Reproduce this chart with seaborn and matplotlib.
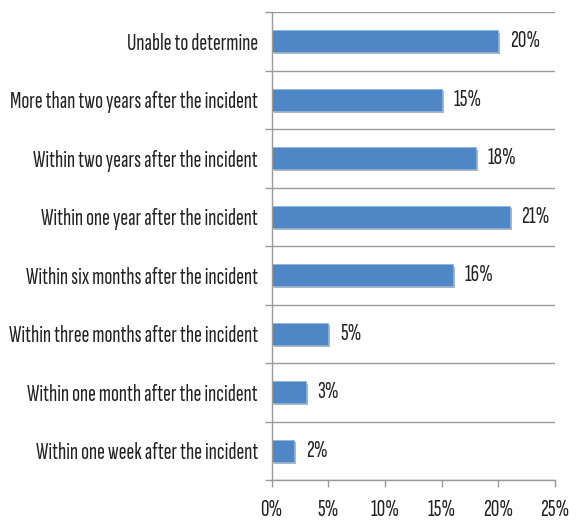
import matplotlib
matplotlib.use("Agg")
import matplotlib.pyplot as plt
import seaborn as sns
import pandas as pd
import matplotlib.patheffects as pe
from matplotlib.ticker import FixedLocator, FuncFormatter

categories = [
    "Unable to determine",
    "More than two years after the incident",
    "Within two years after the incident",
    "Within one year after the incident",
    "Within six months after the incident",
    "Within three months after the incident",
    "Within one month after the incident",
    "Within one week after the incident",
]
values = [20, 15, 18, 21, 16, 5, 3, 2]
xticks = [0, 5, 10, 15, 20, 25]

sns.set_theme(style="white")
plt.rcParams['font.family'] = ['Sofia Sans Extra Condensed', 'DejaVu Sans']

df = pd.DataFrame({"cat": categories, "val": values})

fig = plt.figure(figsize=(5.76, 5.23), dpi=100)
ax = fig.add_axes([0.4717, 0.0822, 0.9635 - 0.4717, 0.977 - 0.0822])

sns.barplot(data=df, y="cat", x="val", orient="h", color="#4F86C6",
            width=0.37, saturation=1, ax=ax, order=categories)
for p in ax.patches:
    p.set_path_effects([pe.SimplePatchShadow(offset=(1.5, -1.5), alpha=0.35),
                        pe.Normal()])
    p.set_edgecolor("#8fb3dd")
    p.set_linewidth(0.6)

ax.set_xlim(0, 25)
ax.set_ylim(len(categories) - 0.5, -0.5)
ax.set_xlabel("")
ax.set_ylabel("")

fs = 17
grid_c = "#9a9a9a"
bounds = [i - 0.5 for i in range(len(categories) + 1)]
ax.yaxis.set_minor_locator(FixedLocator(bounds))
ax.tick_params(axis="y", which="minor", length=5, color=grid_c, width=1, left=True)
ax.tick_params(axis="y", which="major", length=0, pad=10, labelsize=fs, labelcolor="#222222")
for b in bounds:
    ax.axhline(b, color=grid_c, lw=1, zorder=0)

ax.set_xticks(xticks)
ax.xaxis.set_major_formatter(FuncFormatter(lambda v, _: f"{int(v)}%"))
ax.tick_params(axis="x", which="major", length=5, color=grid_c, width=1, bottom=True,
               labelsize=fs, labelcolor="#222222", pad=9)

for s in ["top", "right"]:
    ax.spines[s].set_visible(False)
for s in ["left", "bottom"]:
    ax.spines[s].set_color(grid_c)
    ax.spines[s].set_linewidth(1)

for i, v in enumerate(values):
    ax.annotate(f"{v}%", xy=(v, i), xytext=(8.5, 0), textcoords="offset points",
                va="center", ha="left", fontsize=fs, color="#222222")

fig.savefig("out.png", dpi=100)
